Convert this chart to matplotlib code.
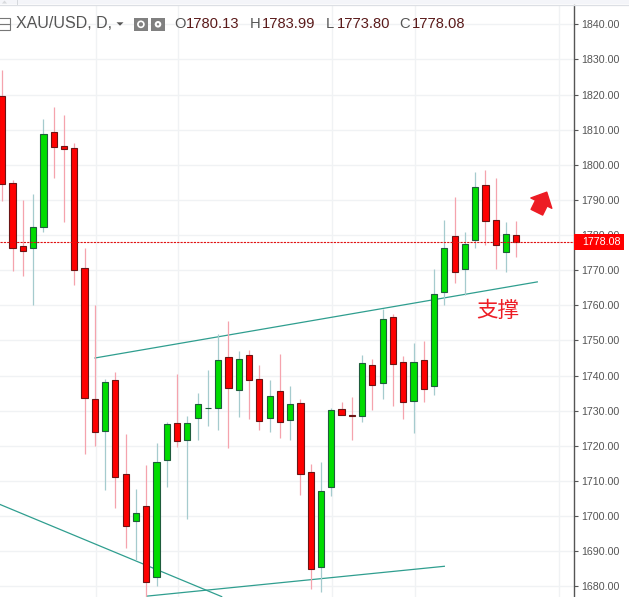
import numpy as np
import matplotlib
matplotlib.use("Agg")
import matplotlib.pyplot as plt
from matplotlib.patches import Rectangle, Circle, Polygon

# daily candles
opens = [1819.6, 1794.8, 1776.9, 1776.3, 1782.2, 1809.3, 1805.4, 1804.8, 1770.6, 1733.3,
         1724.2, 1738.7, 1712.0, 1698.6, 1702.9, 1682.7, 1716.0, 1726.5, 1721.6, 1727.9,
         1730.7, 1730.8, 1745.3, 1735.9, 1745.9, 1739.0, 1727.9, 1735.6, 1727.4, 1732.2,
         1712.6, 1685.5, 1708.3, 1730.5, 1728.7, 1728.5, 1743.0, 1737.9, 1756.6, 1743.9,
         1732.8, 1744.4, 1737.0, 1763.8, 1779.7, 1770.3, 1778.5, 1794.3, 1784.3, 1775.2,
         1780.13]
closes = [1794.5, 1776.3, 1775.5, 1782.3, 1808.8, 1805.0, 1804.4, 1770.0, 1733.5, 1723.8,
          1738.2, 1711.1, 1697.2, 1700.9, 1681.2, 1715.4, 1726.2, 1721.4, 1726.5, 1731.9,
          1730.9, 1744.4, 1736.4, 1744.7, 1738.7, 1727.1, 1734.2, 1726.8, 1731.9, 1712.0,
          1684.9, 1707.1, 1730.2, 1728.8, 1728.5, 1743.6, 1737.3, 1756.1, 1743.3, 1732.5,
          1743.9, 1736.2, 1763.1, 1776.3, 1769.5, 1777.5, 1793.7, 1784.0, 1777.2, 1780.3,
          1778.08]
highs = [1827.1, 1795.8, 1790.1, 1791.8, 1812.9, 1816.5, 1814.3, 1806.2, 1776.4, 1760.2,
         1739.1, 1741.1, 1723.5, 1707.8, 1714.6, 1720.9, 1726.8, 1740.3, 1728.6, 1735.1,
         1741.7, 1751.8, 1755.6, 1747.1, 1747.4, 1743.0, 1738.8, 1746.2, 1737.1, 1733.4,
         1714.9, 1715.5, 1730.8, 1732.5, 1734.0, 1745.9, 1744.8, 1759.0, 1757.5, 1745.7,
         1749.4, 1749.7, 1770.2, 1784.4, 1790.7, 1781.0, 1798.0, 1798.6, 1796.3, 1783.8,
         1783.99]
lows = [1789.6, 1769.7, 1768.3, 1760.2, 1780.8, 1796.1, 1783.6, 1765.7, 1717.6, 1719.9,
        1707.3, 1702.2, 1690.8, 1687.5, 1676.0, 1680.0, 1708.2, 1719.6, 1699.1, 1721.6,
        1725.5, 1724.4, 1719.3, 1728.3, 1727.5, 1724.6, 1724.0, 1722.1, 1721.6, 1705.9,
        1679.1, 1678.4, 1705.6, 1728.8, 1721.6, 1726.9, 1730.3, 1733.2, 1731.2, 1727.5,
        1723.6, 1732.4, 1734.4, 1760.0, 1766.3, 1763.0, 1776.2, 1777.1, 1770.2, 1769.5,
        1773.80]
# the one flat green candle has open < close, the flat red one open > close

price_ticks = [1680, 1690, 1700, 1710, 1720, 1730, 1740, 1750, 1760, 1770, 1780,
               1790, 1800, 1810, 1820, 1830, 1840]
time_grid = [9.09, 17.12, 32.1, 40.1, 54.2]

# drawn trendlines: (candle index, price)
trend_up_x = [9.02, 52.04]
trend_up_y = [1745.0, 1766.66]
trend_down_x = [-0.224, 21.34]
trend_down_y = [1703.3, 1677.07]
trend_low_x = [14.05, 43.0]
trend_low_y = [1677.2, 1685.7]

header = [("O", "1780.13", 174, 186), ("H", "1783.99", 249.5, 262),
          ("L", "1773.80", 325.7, 336.7), ("C", "1778.08", 399.3, 411.7)]
last_close = closes[-1]

plt.rcParams['font.family'] = ['Liberation Sans', 'DejaVu Sans']

fig = plt.figure(figsize=(6.29, 5.97), dpi=100)
W, H = 629, 597

# main chart, x axis in candle index
ax = fig.add_axes([0, 0.4 / H, 574.3 / W, 592 / H])
ax.set_xlim(-0.224, 55.64)
ax.set_ylim(1677.07, 1845.6)

ax.set_yticks(price_ticks)
ax.set_yticklabels(["%.2f" % p for p in price_ticks])
ax.yaxis.tick_right()
ax.tick_params(axis='y', length=2.8, width=0.8, color='#555555', labelcolor='#555555',
               labelsize=7.7, pad=2.2)
ax.set_xticks([])
for s in ['left', 'top', 'bottom']:
    ax.spines[s].set_visible(False)
ax.spines['right'].set_color('#555555')
ax.spines['right'].set_linewidth(1.0)

for p in price_ticks:
    ax.axhline(p, color='#f0f2f4', lw=1.0, zorder=0)
for t in time_grid:
    ax.axvline(t, color='#f0f2f4', lw=1.0, zorder=0)

ax.plot(trend_up_x, trend_up_y, color='#2f9e8f', lw=0.9, zorder=1)
ax.plot(trend_down_x, trend_down_y, color='#2f9e8f', lw=0.9, zorder=1)
ax.plot(trend_low_x, trend_low_y, color='#2f9e8f', lw=0.9, zorder=1)

x = np.arange(len(opens))
o = np.array(opens)
c = np.array(closes)
up = c > o

ax.vlines(x[~up], np.array(lows)[~up], np.array(highs)[~up], color='#f5a3ad', lw=0.9, zorder=2)
ax.vlines(x[up], np.array(lows)[up], np.array(highs)[up], color='#a5cbce', lw=0.9, zorder=2)
ax.bar(x[~up], (o - c)[~up], bottom=c[~up], width=0.6, color='#ff0000',
       edgecolor='#6b1414', linewidth=0.8, zorder=3)
ax.bar(x[up], (c - o)[up], bottom=o[up], width=0.6, color='#00dc00',
       edgecolor='#1f5c3c', linewidth=0.8, zorder=3)

ax.axhline(last_close, color='#e01010', lw=0.8, ls=(0, (2, 1)), zorder=4)

ax.annotate("", xy=(52.96, 1792.2), xytext=(52.0, 1786.5),
            arrowprops=dict(arrowstyle="simple,head_length=0.55,head_width=1.05,tail_width=0.58",
                            color='#ed1c24', shrinkA=0, shrinkB=0, mutation_scale=16))

# window chrome and header, in pixel coordinates
ui = fig.add_axes([0, 0, 1, 1])
ui.set_xlim(0, W)
ui.set_ylim(H, 0)
ui.axis('off')

ui.add_patch(Rectangle((0, 0), W, 4.3, fc='#f4f5f9', ec='none'))
ui.plot([0, W], [4.5, 4.5], color='#dcdfe4', lw=0.9)
ui.plot([17.3, 17.3], [0, 4], color='#d5d8dc', lw=0.7)
ui.add_patch(Polygon([[2, 3.5], [7, 3.5], [4.5, 0.5]], fc='#d8dadd', ec='none'))

ui.add_patch(Rectangle((-3, 18.3), 12.5, 11.5, fc='none', ec='#777777', lw=0.8))
ui.plot([0, 9], [24, 24], color='#777777', lw=0.8)

ui.text(16, 24, "XAU/USD, D,", color='#555555', fontsize=11.5, va='center', ha='left')
ui.add_patch(Polygon([[116.5, 22.3], [123.5, 22.3], [120, 25.7]], fc='#555555', ec='none'))

ui.add_patch(Rectangle((134, 17.7), 13.7, 13.3, fc='#808080', ec='none'))
ui.add_patch(Circle((140.9, 24.3), 3.0, fc='none', ec='white', lw=1.2))
ui.add_patch(Rectangle((151, 17.7), 14, 13.3, fc='#808080', ec='none'))
ui.add_patch(Circle((158, 24.3), 3.3, fc='white', ec='none'))
ui.add_patch(Circle((158, 24.3), 1.2, fc='#808080', ec='none'))

for name, val, xn, xv in header:
    ui.text(xn, 24, name, color='#555555', fontsize=10.6, va='center', ha='left')
    ui.text(xv, 24, val, color='#5a1a1a', fontsize=10.6, va='center', ha='left')

ui.add_patch(Rectangle((574, 234), 50, 16, fc='#ff0000', ec='none'))
ui.text(582.3, 242, "%.2f" % last_close, color='white', fontsize=7.7, va='center', ha='left')

ui.text(498, 310.5, "支撑", color='#ed1c24', fontsize=15.5, va='center', ha='center',
        family=['Noto Sans CJK SC', 'DejaVu Sans'])

fig.savefig("out.png", dpi=100)
